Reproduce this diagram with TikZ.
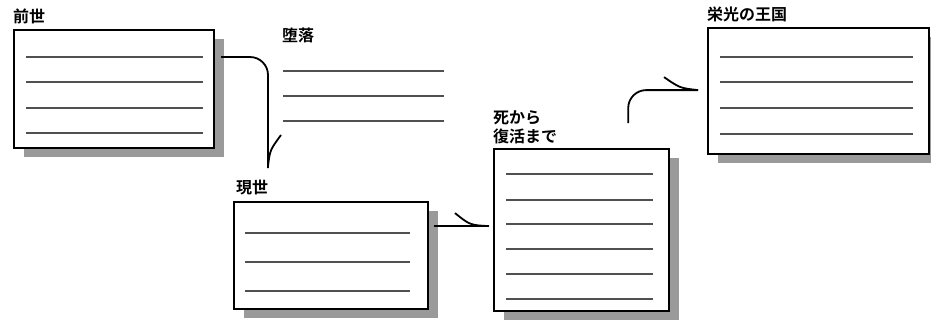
\documentclass[tikz,border=0pt]{standalone}
\usepackage{fontspec}
\newfontfamily\jp{Noto Sans CJK JP Bold}
\usetikzlibrary{shadows,calc}
\definecolor{shade}{HTML}{9A9A9A}
\definecolor{rule}{HTML}{505050}
\tikzset{
  card/.style={draw=black, line width=2.2pt, fill=white, rectangle, anchor=north west, inner sep=0pt,
    drop shadow={shadow xshift=10pt, shadow yshift=-9pt, fill=shade, opacity=1}},
  lbl/.style={anchor=west, inner sep=0pt, font=\jp\fontsize{16}{19}\selectfont, align=left},
  ruleline/.style={draw=rule, line width=1.5pt},
  conn/.style={draw=black, line width=1.8pt, rounded corners=18pt},
  barb/.style={draw=black, line width=1.8pt}
}
\begin{document}
\begin{tikzpicture}[x=1pt,y=-1pt]
\useasboundingbox (0,0) rectangle (931,322);
% cards
\node[card, minimum width=200pt, minimum height=118pt] (b1) at (13,29) {};
\node[card, minimum width=194pt, minimum height=107pt] (b2) at (233,201) {};
\node[card, minimum width=175pt, minimum height=162pt] (b3) at (493,148) {};
\node[card, minimum width=221pt, minimum height=126pt] (b4) at (707,27) {};
% labels
\node[lbl] (l1) at (13,16) {前世};
\node[lbl] (l0) at (282,35) {堕落};
\node[lbl] (l2) at (236,188) {現世};
\node[lbl] (l3) at (493,127) {死から\\復活まで};
\node[lbl] (l4) at (707,14) {栄光の王国};
% ruled lines
\foreach \y in {57,82,108,133} \draw[ruleline] (26,\y) -- (203,\y);
\foreach \y in {71,96,121} \draw[ruleline] (283,\y) -- (444,\y);
\foreach \y in {233,262,291} \draw[ruleline] (245,\y) -- (410,\y);
\foreach \y in {174,200,224,249,274,299} \draw[ruleline] (506,\y) -- (653,\y);
\foreach \y in {57,82,108,134} \draw[ruleline] (720,\y) -- (913,\y);
% connectors
\coordinate (e1) at ([xshift=35pt,yshift=33pt]b2.north west);
\draw[conn] ([xshift=6pt,yshift=-28pt]b1.north east) -| (e1);
\draw[barb] ($(e1)+(0,-2)$) .. controls ($(e1)+(2,-18)$) .. ($(e1)+(13,-33)$);
\coordinate (e2) at ([xshift=-4pt,yshift=4pt]b3.west);
\draw[conn] ($(e2 -| b2.east)+(5,0)$) -- (e2);
\draw[barb] (e2) .. controls ($(e2)+(-19,-1)$) .. ($(e2)+(-34,-13)$);
\coordinate (s3) at ([xshift=-42pt,yshift=25pt]b3.north east);
\coordinate (e3) at ([xshift=-9pt,yshift=1pt]b4.west);
\draw[conn] (s3) |- (e3);
\draw[barb] (e3) .. controls ($(e3)+(-18,-2)$) .. ($(e3)+(-34,-13)$);
\end{tikzpicture}
\end{document}
